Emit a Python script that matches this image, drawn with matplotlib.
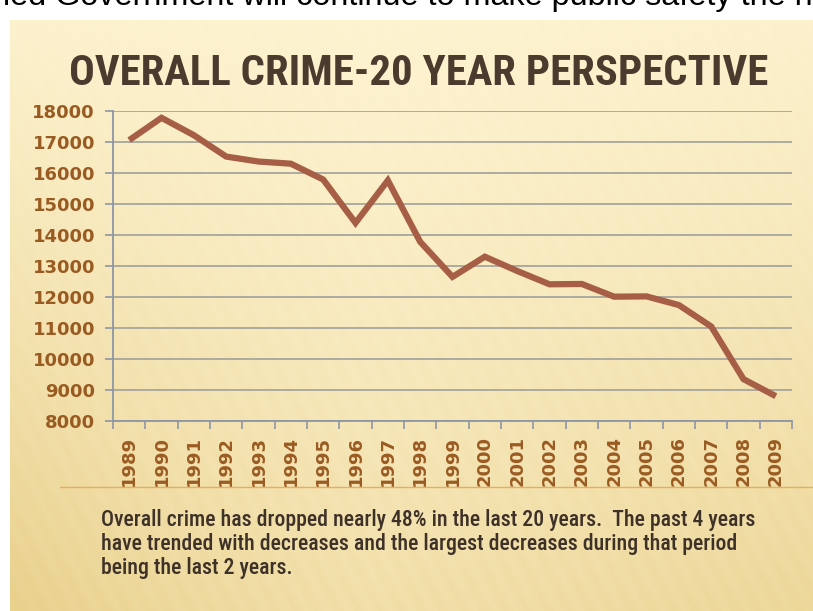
import numpy as np
import matplotlib.pyplot as plt
from matplotlib import font_manager
from matplotlib.ticker import FixedLocator, NullFormatter

# ----------------------------------------
# data
# ----------------------------------------
years = ['1989', '1990', '1991', '1992', '1993', '1994', '1995', '1996', '1997', '1998',
         '1999', '2000', '2001', '2002', '2003', '2004', '2005', '2006', '2007', '2008', '2009']
crimes = [17060, 17780, 17220, 16530, 16370, 16300, 15790, 14390, 15760, 13780,
          12650, 13300, 12840, 12410, 12420, 12010, 12020, 11740, 11050, 9350, 8800]
y_ticks = [8000, 9000, 10000, 11000, 12000, 13000, 14000, 15000, 16000, 17000, 18000]

title = 'OVERALL CRIME-20 YEAR PERSPECTIVE'
note_lines = ['Overall crime has dropped nearly 48% in the last 20 years.  The past 4 years',
              'have trended with decreases and the largest decreases during that period',
              'being the last 2 years.']
top_line = 'ied Government will continue to make public safety the n'

# pick a condensed face if one is installed
names = {f.name for f in font_manager.fontManager.ttflist}
narrow_family, narrow_stretch = 'DejaVu Sans', 'normal'
for cand in ['Liberation Sans Narrow', 'Roboto Condensed', 'Noto Sans Condensed',
             'Open Sans Condensed', 'DejaVu Sans Condensed']:
    if cand in names:
        narrow_family = cand
        break
else:
    for f in font_manager.fontManager.ttflist:
        if f.stretch in ('condensed', 'semi-condensed', 'extra-condensed') and f.name in (
                'DejaVu Sans', 'Noto Sans', 'Roboto', 'Open Sans'):
            narrow_family, narrow_stretch = f.name, f.stretch
            break

fig = plt.figure(figsize=(8.13, 6.11), dpi=100)
fig.patch.set_facecolor('white')
renderer = fig.canvas.get_renderer()


def fit_width(txt, target_px):
    w = txt.get_window_extent(renderer).width
    txt.set_fontsize(txt.get_fontsize() * target_px / w)


# ----------------------------------------
# slide background (beige gradient)
# ----------------------------------------
bg = fig.add_axes([10 / 813, 0, 1 - 10 / 813, 1 - 20 / 611])
bg.set_axis_off()
h, w = 300, 400
yy, xx = np.mgrid[0:1:h * 1j, 0:1:w * 1j]
light = np.array([253, 243, 208]) / 255
gold = np.array([233, 208, 140]) / 255
t = np.clip(0.55 * yy ** 1.3 + 0.35 * np.abs(xx - 0.45) * (yy + 0.3) + 0.25 * (1 - xx) ** 4 * yy, 0, 1)
t = t + 0.03 * np.sin((xx * 4 - yy * 1.5) * 60) * (0.3 + yy)
t = np.clip(t, 0, 1)
img = light[None, None, :] * (1 - t[..., None]) + gold[None, None, :] * t[..., None]
bg.imshow(img, aspect='auto', extent=[0, 1, 0, 1], origin='upper')
bg.set_xlim(0, 1)
bg.set_ylim(0, 1)

# cut-off text from previous slide
top_txt = fig.text(408 / 813, 1 - 5 / 611, top_line, ha='center', va='baseline', fontsize=23,
                   family='Liberation Sans', color='black')
fit_width(top_txt, 812)

# title
title_txt = fig.text(419 / 813, 1 - 85 / 611, title, ha='center', va='baseline', fontsize=30,
                     family=narrow_family, stretch=narrow_stretch, weight='bold', color='#4b3b2f')
fit_width(title_txt, 698)

# separator line
fig.add_artist(plt.Line2D([60 / 813, 1], [1 - 487 / 611] * 2, color='#e9ac5a', lw=1))

# note text, one line at a time
for i, line in enumerate(note_lines):
    nt = fig.text(101 / 813, 1 - (526 + 24 * i) / 611, line, ha='left', va='baseline',
                  fontsize=13, family=narrow_family, stretch=narrow_stretch, weight='medium',
                  color='#3e3128')
    if i == 0:
        fit_width(nt, 656)
        note_size = nt.get_fontsize()
    else:
        nt.set_fontsize(note_size)

# ----------------------------------------
# chart
# ----------------------------------------
ax = fig.add_axes([113 / 813, 1 - 421 / 611, (792 - 113) / 813, (421 - 111) / 611])
ax.patch.set_alpha(0)
x = np.arange(len(years))
ax.plot(x, crimes, color='#a65f46', lw=4.5, solid_capstyle='butt', solid_joinstyle='miter', zorder=3)

ax.set_xlim(-0.5, len(years) - 0.5)
ax.set_ylim(8000, 18000)
ax.set_yticks(y_ticks)
ax.set_yticklabels([str(v) for v in y_ticks])
ax.yaxis.grid(True, color='#a7a59d', lw=1.3)
ax.set_axisbelow(True)

ax.set_xticks(x)
ax.set_xticklabels(years, rotation=90)
ax.xaxis.set_minor_locator(FixedLocator(np.arange(-0.5, len(years), 1)))
ax.xaxis.set_minor_formatter(NullFormatter())
ax.tick_params(axis='x', which='major', length=0, pad=11)
ax.tick_params(axis='x', which='minor', length=6, width=1.2, color='#8e96a6', direction='out')
ax.tick_params(axis='y', length=6, width=1.2, color='#8e96a6', pad=7)

for lab in ax.get_xticklabels() + ax.get_yticklabels():
    lab.set_fontsize(13)
    lab.set_fontweight('bold')
    lab.set_color('#9a5b22')

for side in ['top', 'right']:
    ax.spines[side].set_visible(False)
for side in ['left', 'bottom']:
    ax.spines[side].set_color('#8e96a6')
    ax.spines[side].set_linewidth(1.3)

plt.savefig('out.png', dpi=100)
